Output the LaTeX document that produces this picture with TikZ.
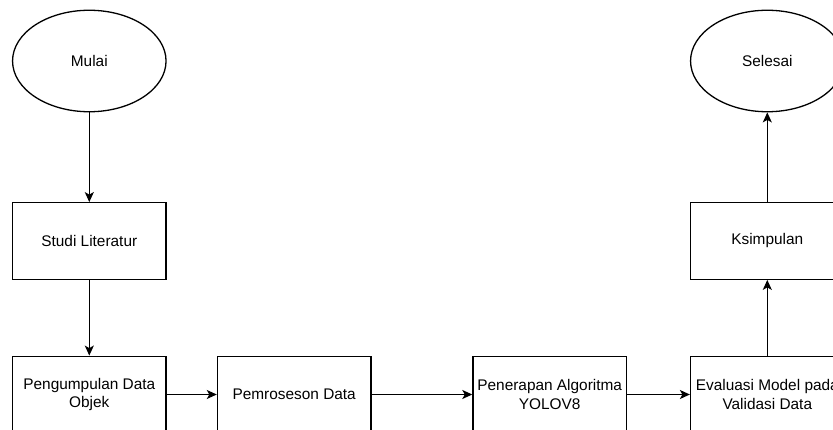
\documentclass[tikz,border=0pt]{standalone}
\usepackage{xcolor}
\usepackage{fontspec}
\setmainfont{Liberation Sans}
\usepackage{tikz}
\usetikzlibrary{shapes.geometric,arrows.meta}

\begin{document}
\begin{tikzpicture}[x=1pt, y=-1pt]
					\useasboundingbox (0, 0) rectangle (833, 430);
					\clip (0, 0) rectangle (833, 430);
					
					\begin{scope}[
						every node/.style={align=center, draw, fill=white, line width=1.3pt, font=\fontsize{15.4}{18.5}\selectfont, inner sep=2pt},
						box/.style={rectangle, minimum width=153.5pt, minimum height=76.5pt},
						terminal/.style={ellipse, minimum width=153.5pt, minimum height=101.5pt}]
						\node[terminal] (E1) at (89.3, 61) {Mulai};
						\node[box] (B1) at (89.3, 241) {Studi Literatur};
						\node[box] (B2) at (89.3, 394.5) {Pengumpulan Data\\Objek};
						\node[box] (B3) at (294.2, 394.5) {Pemroseson Data};
						\node[box] (B4) at (549.7, 394.5) {Penerapan Algoritma\\YOLOV8};
						\node[box] (B5) at (767.3, 394.5) {Evaluasi Model pada\\Validasi Data};
						\node[box] (B6) at (767.3, 241) {Ksimpulan};
						\node[terminal] (E2) at (767.3, 61) {Selesai};
					\end{scope}
					
					\draw[-{Stealth[length=10pt, width=9pt, inset=2.5pt]}, line width=1.3pt] (E1) edge (B1);
					\draw[-{Stealth[length=10pt, width=9pt, inset=2.5pt]}, line width=1.3pt] (B1) edge (B2);
					\draw[-{Stealth[length=10pt, width=9pt, inset=2.5pt]}, line width=1.3pt] (B2) edge (B3);
					\draw[-{Stealth[length=10pt, width=9pt, inset=2.5pt]}, line width=1.3pt] (B3) edge (B4);
					\draw[-{Stealth[length=10pt, width=9pt, inset=2.5pt]}, line width=1.3pt] (B4) edge (B5);
					
					\draw[-{Stealth[length=10pt, width=9pt, inset=2.5pt]}, line width=1.3pt] (B5) edge (B6);
					\draw[-{Stealth[length=10pt, width=9pt, inset=2.5pt]}, line width=1.3pt] (B6) edge (E2);
				\end{tikzpicture}
\end{document}
